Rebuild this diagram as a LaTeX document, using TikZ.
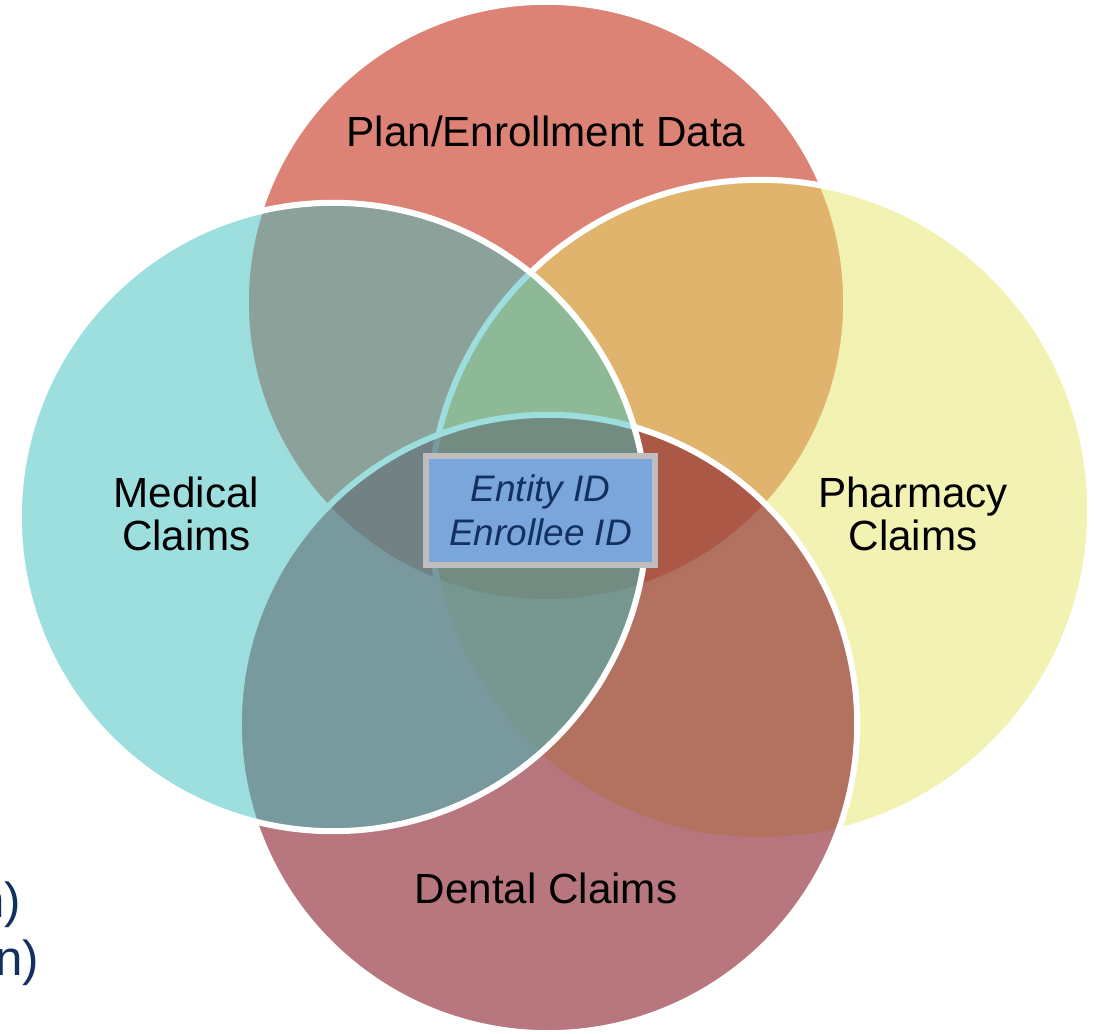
\documentclass[tikz,border=0pt]{standalone}
\usepackage{fontspec}
\setmainfont{Liberation Sans}
\usetikzlibrary{positioning,shadows}
\definecolor{planred}{RGB}{220,131,118}
\definecolor{pharmyellow}{RGB}{229,229,101}
\definecolor{dentalred}{RGB}{140,34,47}
\definecolor{medteal}{RGB}{59,191,191}
\definecolor{boxblue}{RGB}{123,166,219}
\definecolor{boxgray}{RGB}{190,190,190}
\definecolor{idblue}{RGB}{18,48,96}
\tikzset{
  venn/.style={circle, draw=white, line width=0.06cm, inner sep=0pt},
  planfill/.style={fill=planred},
  pharmfill/.style={fill=pharmyellow, fill opacity=0.5},
  dentalfill/.style={fill=dentalred, fill opacity=0.62},
  medfill/.style={fill=medteal, fill opacity=0.5},
  setlabel/.style={font=\fontsize{12}{12.3}\selectfont, align=center, text=black, inner sep=0pt},
  idbox/.style={draw=boxgray, line width=0.057cm, fill=boxblue, minimum width=2.295cm, minimum height=1.09cm,
                inner sep=0pt, align=center, text=idblue, font=\fontsize{10.5}{12.35}\selectfont\itshape,
                drop shadow={shadow xshift=0.025cm, shadow yshift=-0.03cm, opacity=0.3}},
  cuttext/.style={font=\fontsize{14}{16}\selectfont, text=idblue, inner sep=0pt},
}
\begin{document}
\begin{tikzpicture}[x=0.01cm, y=-0.01cm]
  \useasboundingbox (0,0) rectangle (1094,1034);

  % the four sets, back to front
  \node[venn, planfill, minimum size=6cm] (plan) at (546,302) {};
  \node[venn, pharmfill, minimum size=6.6cm] (pharmacy) at (760,510) {};
  \node[venn, dentalfill, minimum size=6.18cm] (dental) at (548,724) {};
  \node[venn, medfill, minimum size=6.28cm] (medical) at (333,517) {};

  % common keys
  \node[idbox] (ids) at (540.5,510.5) {Entity ID\\Enrollee ID};

  \node[setlabel, anchor=base] (planlabel) at (546,147) {Plan/Enrollment Data};
  \node[setlabel] (medlabel) at (186.5,514) {Medical\\Claims};
  \node[setlabel] (pharmlabel) at (913,514) {Pharmacy\\Claims};
  \node[setlabel, anchor=base] (dentallabel) at (546,903) {Dental Claims};

  \node[cuttext, anchor=base east] (notea) at (22,917) {n)};
  \node[cuttext, anchor=base east] (noteb) at (40,975) {n)};
\end{tikzpicture}
\end{document}
